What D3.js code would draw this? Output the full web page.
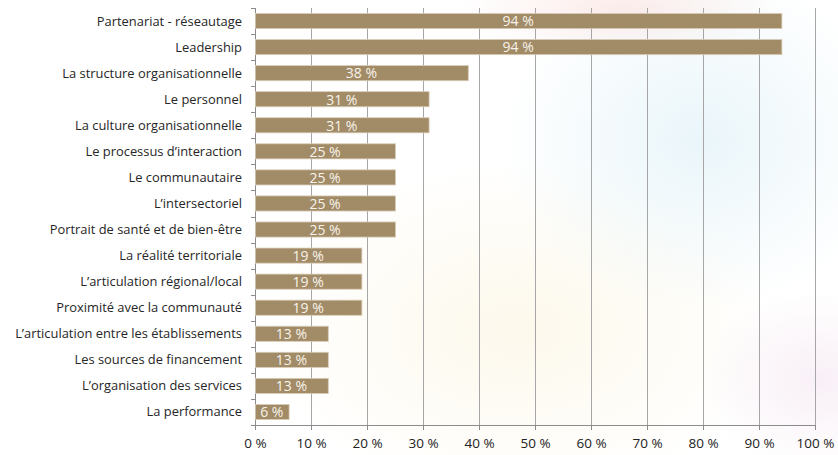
<!DOCTYPE html>
<html><head><meta charset="utf-8">
<script src="https://cdn.jsdelivr.net/npm/d3@7"></script>
<style>body{margin:0;background:#fff}svg{display:block}</style>
</head><body>
<script>
const categories = ["Partenariat - réseautage","Leadership","La structure organisationnelle","Le personnel","La culture organisationnelle","Le processus d’interaction","Le communautaire","L’intersectoriel","Portrait de santé et de bien-être","La réalité territoriale","L’articulation régional/local","Proximité avec la communauté","L’articulation entre les établissements","Les sources de financement","L’organisation des services","La performance"];
const values = [94,94,38,31,31,25,25,25,25,19,19,19,13,13,13,6];
const tickValues = [0,10,20,30,40,50,60,70,80,90,100];

const W=838,H=455, m={l:255,r:23,t:8,b:30};
const svg=d3.select("body").append("svg").attr("width",W).attr("height",H);
const defs=svg.append("defs");
function blob(id,c){const g=defs.append("radialGradient").attr("id",id);
 g.append("stop").attr("offset","0%").attr("stop-color",c).attr("stop-opacity",0.55);
 g.append("stop").attr("offset","100%").attr("stop-color",c).attr("stop-opacity",0);}
blob("b1","#fbf3dc");blob("b2","#d9eef6");blob("b3","#f9dcd8");blob("b4","#f3e3ef");
const bg=svg.append("g");
bg.append("ellipse").attr("cx",520).attr("cy",330).attr("rx",260).attr("ry",170).attr("fill","url(#b1)");
bg.append("ellipse").attr("cx",700).attr("cy",140).attr("rx",200).attr("ry",170).attr("fill","url(#b2)");
bg.append("ellipse").attr("cx",620).attr("cy",10).attr("rx",160).attr("ry",50).attr("fill","url(#b3)");
bg.append("ellipse").attr("cx",820).attr("cy",380).attr("rx",120).attr("ry",90).attr("fill","url(#b4)");

const x=d3.scaleLinear().domain([0,100]).range([m.l,W-m.r]);
const y=d3.scaleBand().domain(categories).range([m.t,H-m.b]).paddingInner(0.42).paddingOuter(0.21);
const y0=H-m.b;

// gridlines
svg.append("g").selectAll("line").data(tickValues.slice(1)).join("line")
 .attr("x1",d=>x(d)).attr("x2",d=>x(d)).attr("y1",m.t).attr("y2",y0)
 .attr("stroke","#a6a6a6").attr("stroke-width",1).attr("shape-rendering","crispEdges");

// x axis
const xa=svg.append("g").attr("transform",`translate(0,${y0})`)
 .call(d3.axisBottom(x).tickValues(tickValues).tickFormat(d=>d+" %").tickSize(5).tickSizeOuter(0));
xa.select(".domain").attr("stroke","#8c8c8c");
xa.selectAll(".tick line").attr("stroke","#8c8c8c");
xa.selectAll("text").attr("fill","#222").attr("font-family","Open Sans").attr("font-size","13.5px").attr("y",10).attr("dy","0.95em");

// y axis with ticks at band boundaries
const bounds=d3.range(categories.length+1).map(i=>m.t+i*(H-m.b-m.t)/categories.length);
svg.append("line").attr("x1",m.l+0.5).attr("x2",m.l+0.5).attr("y1",m.t).attr("y2",y0).attr("stroke","#8c8c8c");
svg.append("g").selectAll("line").data(bounds).join("line")
 .attr("x1",m.l-4).attr("x2",m.l).attr("y1",d=>Math.round(d)+0.5).attr("y2",d=>Math.round(d)+0.5).attr("stroke","#8c8c8c");

// labels
svg.append("g").selectAll("text").data(categories).join("text")
 .attr("x",m.l-13).attr("y",d=>y(d)+y.bandwidth()/2).attr("dy","0.35em")
 .attr("text-anchor","end").attr("font-family","Open Sans").attr("font-size","12.9px").attr("fill","#262626").text(d=>d);

// bars
svg.append("g").selectAll("rect").data(values).join("rect")
 .attr("x",x(0)+0.5).attr("y",(d,i)=>y(categories[i])).attr("width",d=>x(d)-x(0)).attr("height",y.bandwidth())
 .attr("fill","#a28b67").attr("stroke","#d8cdb8").attr("stroke-width",0.8);

svg.append("g").selectAll("text").data(values).join("text")
 .attr("x",d=>(x(0)+x(d))/2).attr("y",(d,i)=>y(categories[i])+y.bandwidth()/2).attr("dy","0.38em")
 .attr("text-anchor","middle").attr("font-family","Open Sans").attr("font-size","14px").attr("fill","#f7f3ea").text(d=>d+" %");
</script>
</body></html>
